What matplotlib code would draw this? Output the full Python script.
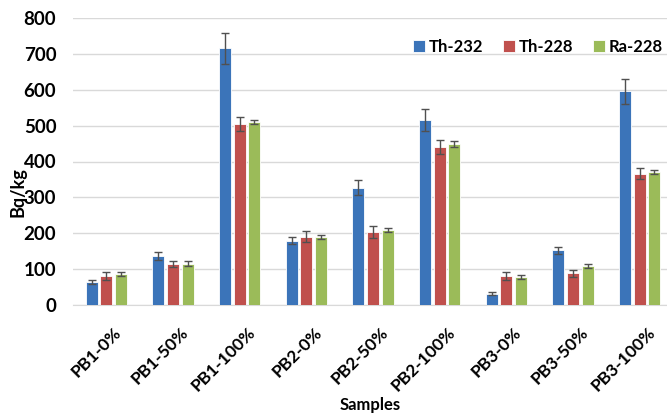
import numpy as np
import matplotlib.pyplot as plt
from matplotlib.transforms import ScaledTranslation

plt.rcParams['font.family'] = ['Lato', 'DejaVu Sans']
plt.rcParams['font.weight'] = 'bold'
plt.rcParams['axes.labelweight'] = 'bold'

samples = ["PB1-0%", "PB1-50%", "PB1-100%", "PB2-0%", "PB2-50%",
           "PB2-100%", "PB3-0%", "PB3-50%", "PB3-100%"]
series = ["Th-232", "Th-228", "Ra-228"]
th232 = [64, 137, 715, 179, 327, 516, 32, 153, 596]
th228 = [81, 115, 505, 190, 203, 441, 81, 88, 366]
ra228 = [87, 115, 511, 189, 209, 449, 78, 108, 370]
th232_err = [6, 12, 44, 10, 21, 31, 3, 10, 35]
th228_err = [12, 8, 19, 15, 17, 19, 12, 9, 16]
ra228_err = [6, 7, 6, 6, 6, 9, 6, 5, 6]

colors = ["#3B74B9", "#C0504D", "#9BBB59"]

fig = plt.figure(figsize=(6.67, 4.17), dpi=100)
ax = fig.add_axes([73/667, 1 - 305/417, 600/667, 287/417])

x = np.arange(len(samples))
w = 0.18
step = 0.22
data = [(th232, th232_err), (th228, th228_err), (ra228, ra228_err)]
for i, (vals, errs) in enumerate(data):
    ax.bar(x + (i - 1)*step, vals, width=w, color=colors[i],
           edgecolor="white", linewidth=0.6, label=series[i], zorder=3)
    ax.errorbar(x + (i - 1)*step, vals, yerr=errs, fmt="none",
                ecolor="#505050", elinewidth=1, capsize=3, capthick=1,
                zorder=4)

ax.set_xlim(-0.5, 8.5)
ax.set_ylim(0, 800)
ax.grid(axis="y", color="#D9D9D9", linewidth=1, zorder=0)
ax.set_axisbelow(True)
for s in ["top", "right", "left"]:
    ax.spines[s].set_visible(False)
ax.spines["bottom"].set_color("#D9D9D9")
ax.tick_params(length=0)
ax.set_yticks(range(0, 801, 100))
ax.set_yticklabels([str(v) for v in range(0, 801, 100)], fontsize=13.5,
                   fontweight="bold")
ax.tick_params(axis="y", pad=12)
ax.set_xticks(x)
ax.set_xticklabels(samples, rotation=45, ha="right", rotation_mode="anchor",
                   fontsize=12.5, fontweight="bold")
ax.tick_params(axis="x", pad=14)
shift = ScaledTranslation(0.07, 0, fig.dpi_scale_trans)
for lab in ax.get_xticklabels():
    lab.set_transform(lab.get_transform() + shift)

ax.set_ylabel("Bq/kg", fontsize=13, fontweight="bold")
ax.yaxis.set_label_coords(-0.077, 0.394)
ax.set_xlabel("Samples", fontsize=12, fontweight="bold", va="top")
ax.xaxis.set_label_coords(0.495, -0.32)

ax.legend(loc="center left", ncol=3, frameon=False,
          prop={"size": 12, "weight": "bold"},
          bbox_to_anchor=(0.5667, 0.899), borderpad=0, borderaxespad=0,
          handlelength=0.72, handleheight=0.72,
          handletextpad=0.25, columnspacing=1.15)

fig.savefig("out.png", dpi=100)
